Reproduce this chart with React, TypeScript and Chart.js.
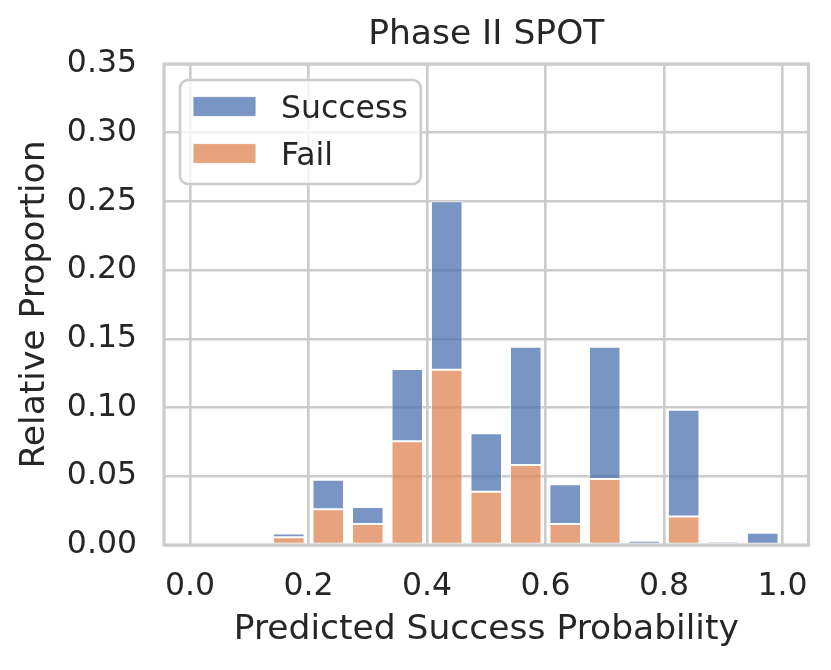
import React, { useEffect, useRef } from 'react';
import { Chart, registerables } from 'chart.js';

Chart.register(...registerables);

// histogram bins (centres), stacked proportions
const BIN_CENTERS = [0.0333, 0.1, 0.1667, 0.2333, 0.3, 0.3667, 0.4333, 0.5, 0.5667, 0.6333, 0.7, 0.7667, 0.8333, 0.9, 0.9667];
const FAIL = [0, 0, 0.0056, 0.026, 0.0152, 0.0755, 0.1276, 0.0388, 0.0583, 0.0152, 0.048, 0, 0.0208, 0, 0];
const SUCCESS = [0, 0, 0.0028, 0.0214, 0.0124, 0.0525, 0.1226, 0.0426, 0.086, 0.029, 0.0963, 0.0031, 0.0776, 0.0025, 0.009];
const X_TICKS = [0, 0.2, 0.4, 0.6, 0.8, 1.0];
const Y_TICKS = [0, 0.05, 0.1, 0.15, 0.2, 0.25, 0.3, 0.35];

const FONT = "'DejaVu Sans', sans-serif";
const TEXT = '#262626';
const GRID = '#cccccc';
const TICK_SIZE = 31.5;
const LABEL_SIZE = 34.5;

// matplotlib draws all four spines above the bars
const framePlugin = {
  id: 'frame',
  afterDatasetsDraw(chart: any) {
    const { ctx, chartArea: a } = chart;
    ctx.save();
    ctx.strokeStyle = GRID;
    ctx.lineWidth = 3.2;
    ctx.strokeRect(a.left, a.top, a.right - a.left, a.bottom - a.top);
    ctx.restore();
  },
};

// legend box in the upper left corner of the plot
const legendPlugin = {
  id: 'insideLegend',
  afterDraw(chart: any) {
    const { ctx, chartArea: a } = chart;
    const items = chart.data.datasets.slice().reverse();
    ctx.save();
    ctx.font = `${TICK_SIZE}px ${FONT}`;
    const textW = Math.max(...items.map((d: any) => ctx.measureText(d.label).width));
    const x = a.left + 16;
    const y = a.top + 16;
    const w = 13 + 63 + 25 + textW + 13;
    const h = 104;
    ctx.beginPath();
    ctx.roundRect(x, y, w, h, 8);
    ctx.fillStyle = 'rgba(255,255,255,0.8)';
    ctx.fill();
    ctx.strokeStyle = GRID;
    ctx.lineWidth = 2.6;
    ctx.stroke();
    items.forEach((d: any, i: number) => {
      const cy = y + 26.5 + i * 47;
      ctx.fillStyle = d.backgroundColor;
      ctx.fillRect(x + 13, cy - 10, 63, 20);
      ctx.strokeStyle = d.borderColor;
      ctx.lineWidth = 1.2;
      ctx.strokeRect(x + 13, cy - 10, 63, 20);
      ctx.fillStyle = TEXT;
      ctx.textBaseline = 'alphabetic';
      ctx.textAlign = 'left';
      ctx.fillText(d.label, x + 13 + 63 + 25, cy + 0.36 * TICK_SIZE);
    });
    ctx.restore();
  },
};

const App = () => {
  const canvasRef = useRef<HTMLCanvasElement>(null);

  useEffect(() => {
    const ctx = canvasRef.current!.getContext('2d')!;
    const c = new Chart(ctx, {
      type: 'bar',
      data: {
        datasets: [
          {
            label: 'Fail',
            data: BIN_CENTERS.map((x, i) => ({ x, y: FAIL[i] })),
            backgroundColor: 'rgba(221,132,82,0.75)',
            borderColor: 'rgba(255,255,255,0.75)',
            borderWidth: 1,
            borderSkipped: false,
            barPercentage: 0.8,
            categoryPercentage: 1,
          },
          {
            label: 'Success',
            data: BIN_CENTERS.map((x, i) => ({ x, y: SUCCESS[i] })),
            backgroundColor: 'rgba(76,114,176,0.75)',
            borderColor: 'rgba(255,255,255,0.75)',
            borderWidth: 1,
            borderSkipped: false,
            barPercentage: 0.8,
            categoryPercentage: 1,
          },
        ],
      },
      options: {
        animation: false,
        responsive: true,
        maintainAspectRatio: false,
        layout: { padding: { left: 0, top: 0, bottom: 0, right: 21 } },
        plugins: {
          legend: { display: false },
          title: { display: false },
          tooltip: { enabled: false },
        },
        scales: {
          x: {
            type: 'linear',
            min: -0.044,
            max: 1.044,
            stacked: true,
            offset: false,
            grid: { color: GRID, lineWidth: 2.6, drawTicks: false, offset: false },
            border: { display: false },
            afterBuildTicks: (axis: any) => {
              axis.ticks = X_TICKS.map((value) => ({ value }));
            },
            afterFit: (axis: any) => {
              axis.height = 125;
            },
            ticks: {
              color: TEXT,
              font: { family: FONT, size: TICK_SIZE },
              padding: 22.6,
              maxRotation: 0,
              autoSkip: false,
              callback: (v: any) => Number(v).toFixed(1),
            },
            title: {
              display: true,
              text: 'Predicted Success Probability',
              color: TEXT,
              font: { family: FONT, size: LABEL_SIZE },
              padding: { top: 0, bottom: 19.5 },
            },
          },
          x2: {
            type: 'linear',
            position: 'top',
            min: -0.044,
            max: 1.044,
            offset: false,
            grid: { display: false, drawTicks: false },
            border: { display: false },
            ticks: { display: false },
            afterFit: (axis: any) => {
              axis.height = 64;
            },
            title: {
              display: true,
              text: 'Phase II SPOT',
              color: TEXT,
              font: { family: FONT, size: LABEL_SIZE },
              padding: { top: 14, bottom: 0 },
            },
          },
          y: {
            type: 'linear',
            min: 0,
            max: 0.35,
            stacked: true,
            grid: { color: GRID, lineWidth: 2.6, drawTicks: false },
            border: { display: false },
            afterBuildTicks: (axis: any) => {
              axis.ticks = Y_TICKS.map((value) => ({ value }));
            },
            afterFit: (axis: any) => {
              axis.width = 164;
            },
            ticks: {
              color: TEXT,
              font: { family: FONT, size: TICK_SIZE },
              padding: 27,
              autoSkip: false,
              callback: (v: any) => Number(v).toFixed(2),
            },
            title: {
              display: true,
              text: 'Relative Proportion',
              color: TEXT,
              font: { family: FONT, size: LABEL_SIZE },
              padding: { top: 14, bottom: 0 },
            },
          },
        },
      } as any,
      plugins: [framePlugin, legendPlugin],
    });
    return () => {
      c.destroy();
    };
  }, []);

  return (
    <div style={{ position: 'absolute', left: 0, top: 0, width: 831, height: 670 }}>
      <canvas ref={canvasRef} />
    </div>
  );
};

export default App;
